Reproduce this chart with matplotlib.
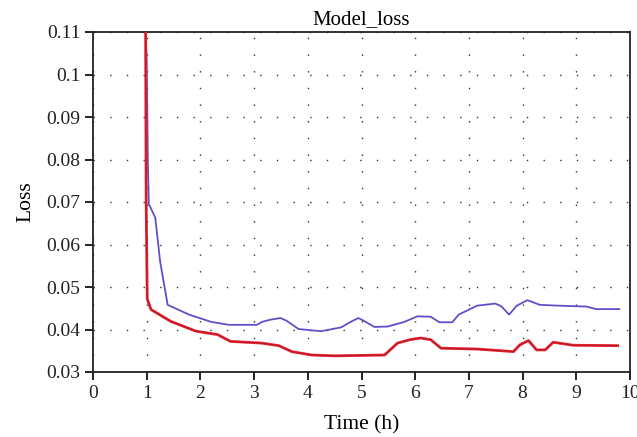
import matplotlib
matplotlib.use("Agg")
import matplotlib.pyplot as plt

plt.rcParams['font.family'] = ['Liberation Serif', 'DejaVu Serif']

title = "Model_loss"
xlabel = "Time (h)"
ylabel = "Loss"
xticks = [0, 1, 2, 3, 4, 5, 6, 7, 8, 9, 10]
yticks = [0.03, 0.04, 0.05, 0.06, 0.07, 0.08, 0.09, 0.1, 0.11]
ytick_labels = ["0.03", "0.04", "0.05", "0.06", "0.07", "0.08", "0.09", "0.1", "0.11"]

blue_t = [0.98, 1.0, 1.02, 1.04, 1.06, 1.16, 1.25, 1.39, 1.79, 2.2, 2.53, 3.05, 3.15, 3.3,
          3.49, 3.6, 3.83, 4.25, 4.62, 4.8, 4.94, 5.05, 5.24, 5.49, 5.8, 6.04, 6.29, 6.45,
          6.69, 6.81, 7.15, 7.49, 7.6, 7.75, 7.89, 8.09, 8.32, 8.69, 9.19, 9.37, 9.8]
blue_v = [0.110, 0.103, 0.081, 0.0694, 0.069, 0.0663, 0.056, 0.0458, 0.0435, 0.0418, 0.0411,
          0.0411, 0.0418, 0.0423, 0.0427, 0.0421, 0.0401, 0.0396, 0.0405, 0.0418, 0.0427,
          0.0420, 0.0406, 0.0407, 0.0418, 0.0431, 0.0430, 0.0417, 0.0417, 0.0435, 0.0456,
          0.0461, 0.0455, 0.0435, 0.0456, 0.0469, 0.0458, 0.0456, 0.0454, 0.0448, 0.0448]

red_t = [0.98, 0.99, 1.01, 1.08, 1.45, 1.92, 2.32, 2.56, 3.14, 3.46, 3.70, 4.07, 4.50, 5.43,
         5.55, 5.67, 5.9, 6.10, 6.29, 6.48, 7.15, 7.83, 7.95, 8.11, 8.26, 8.42, 8.57, 8.94,
         9.77]
red_v = [0.110, 0.070, 0.0472, 0.0447, 0.0419, 0.0396, 0.0388, 0.0372, 0.0368, 0.0362,
         0.0348, 0.0340, 0.0338, 0.0340, 0.0354, 0.0368, 0.0376, 0.0380, 0.0376, 0.0356,
         0.0354, 0.0348, 0.0364, 0.0374, 0.0352, 0.0352, 0.0370, 0.0363, 0.0362]

fig = plt.figure(figsize=(6.37, 4.37), dpi=100)
ax = fig.add_axes([93/637, 1 - 372/437, (630-93)/637, (372-32)/437])

ax.plot(blue_t, blue_v, color='#6050c8', lw=1.3, zorder=3)
ax.plot(red_t, red_v, color='#e8202e', lw=2.0, zorder=4)
ax.plot(red_t, red_v, color='#6a1418', lw=0.5, alpha=0.55, zorder=5)

ax.set_xlim(0, 10)
ax.set_ylim(0.03, 0.11)
ax.set_xticks(xticks)
ax.set_yticks(yticks)
ax.set_yticklabels(ytick_labels)
ax.tick_params(axis='both', labelsize=14, direction='out', length=6, width=1.4,
               colors='#222222', pad=3)
ax.grid(True, color='#333333', linestyle=(0, (1, 11)), linewidth=1.0)
for s in ax.spines.values():
    s.set_linewidth(1.3)
    s.set_color('#222222')

ax.set_title(title, fontsize=15, pad=6)
ax.set_xlabel(xlabel, fontsize=15.5, labelpad=10)
ax.set_ylabel(ylabel, fontsize=15.5, labelpad=8)

fig.savefig("out.png", dpi=100)
